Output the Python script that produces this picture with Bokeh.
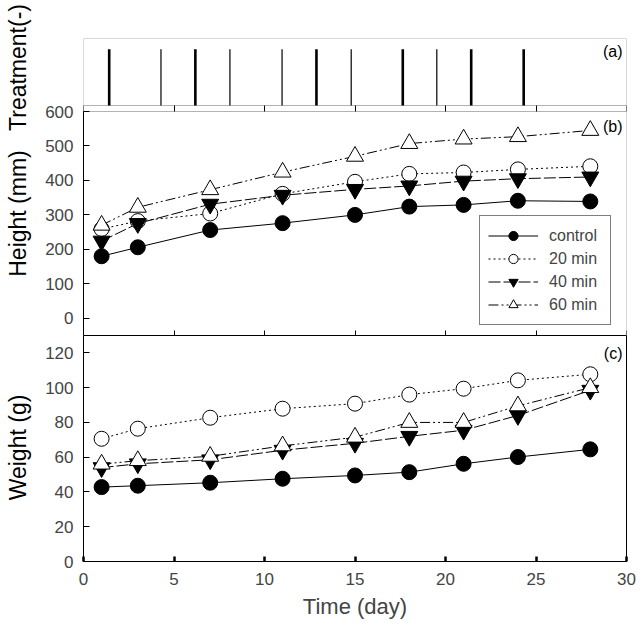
from math import pi
from bokeh.plotting import figure
from bokeh.models import (Range1d, LinearAxis, FixedTicker, BoxAnnotation, Label,
                          Legend, LegendItem)
from bokeh.layouts import column, row
from bokeh.embed import file_html
from bokeh.resources import INLINE

# ---------------- data ----------------
days = [1, 3, 7, 11, 15, 18, 21, 24, 28]
series_names = ["control", "20 min", "40 min", "60 min"]

height_control = [180, 206, 256, 276, 300, 324, 329, 341, 339]
height_20 = [259, 282, 304, 361, 396, 419, 423, 432, 441]
height_40 = [224, 275, 331, 357, 374, 384, 398, 405, 410]
height_60 = [270, 322, 373, 424, 470, 507, 520, 527, 545]

weight_control = [42.8, 43.6, 45.3, 47.6, 49.5, 51.4, 56.2, 60.1, 64.5]
weight_20 = [70.6, 76.4, 82.7, 87.9, 90.8, 96.0, 99.4, 104.2, 107.7]
weight_40 = [54.0, 56.2, 58.5, 64.0, 68.0, 72.0, 75.5, 84.0, 98.5]
weight_60 = [56.0, 58.0, 60.5, 66.5, 71.5, 80.0, 80.0, 89.5, 100.0]

treat_major = [1.42, 6.18, 12.87, 17.64, 21.42, 24.32]
treat_minor = [4.28, 8.09, 10.97, 14.79, 19.52]
treat_level = 0.84

x_ticks = [0, 5, 10, 15, 20, 25, 30]
height_ticks = [0, 100, 200, 300, 400, 500, 600]
weight_ticks = [0, 20, 40, 60, 80, 100, 120]

# ---------------- layout constants (pixels) ----------------
TOTAL_H = 637
TW = 35                      # strip holding the rotated axis titles
W = 640 - TW
LEFT, RIGHT = 83 - TW, 14
AB_H, AB_TOP = 335, 38
A_BOTTOM_PX, B_TOP_PX = 105, 111
C_H, C_BOTTOM = TOTAL_H - AB_H, 76
FONT = "Liberation Sans"
TICK_FS = "17px"
TITLE_FS = "23px"

frame_h_ab = AB_H - AB_TOP
b_lo, b_hi = -50, 600
ppu_b = (AB_H - B_TOP_PX) / (b_hi - b_lo)
b_end = b_lo + frame_h_ab / ppu_b
ppu_a = A_BOTTOM_PX - AB_TOP
a_start = 1 - frame_h_ab / ppu_a

xr = Range1d(0, 30)

styles = {
    "control": dict(marker="circle", fill="black", dash="solid", size=15),
    "20 min": dict(marker="circle", fill="white", dash="2 3", size=15),
    "40 min": dict(marker="inverted_triangle", fill="black", dash="12 3", size=17),
    "60 min": dict(marker="triangle", fill="white", dash="10 3 2 3 2 3", size=17),
}


def add_label(p, text, x, y, size, angle=0, align="center"):
    p.add_layout(Label(x=x, y=y, x_units="screen", y_units="screen", text=text,
                       text_font=FONT, text_font_size=size, text_align=align,
                       text_baseline="middle", angle=angle, text_color="black"))


# ---------------- axis-title strip ----------------
tp = figure(width=TW, height=TOTAL_H, x_range=Range1d(0, 1), y_range=Range1d(0, 1),
            min_border_left=0, min_border_right=0, min_border_top=0, min_border_bottom=0,
            output_backend="svg", toolbar_location=None,
            x_axis_location=None, y_axis_location=None)
tp.outline_line_color = None
tp.grid.visible = False
add_label(tp, "Treatment(-)", 17, TOTAL_H - 67, TITLE_FS, angle=pi / 2)
add_label(tp, "Height (mm)", 17, TOTAL_H - 213, TITLE_FS, angle=pi / 2)
add_label(tp, "Weight (g)", 17, TOTAL_H - 447, TITLE_FS, angle=pi / 2)

# ---------------- panels (a) + (b) ----------------
ab = figure(width=W, height=AB_H, x_range=xr, y_range=Range1d(b_lo, b_end),
            min_border_left=LEFT, min_border_right=RIGHT, min_border_top=AB_TOP,
            min_border_bottom=0, output_backend="svg", toolbar_location=None,
            x_axis_location=None, y_axis_location=None)
ab.outline_line_color = None
ab.grid.visible = False
ab.extra_y_ranges = {"a": Range1d(a_start, 1)}

ab.add_layout(BoxAnnotation(left=0, right=30, bottom=0, top=1, y_range_name="a",
                            fill_color=None, line_color="black", line_width=1))
ab.add_layout(BoxAnnotation(left=0, right=30, bottom=b_lo, top=b_hi,
                            fill_color=None, line_color="black", line_width=1))

ab.segment(x0=treat_major, y0=0, x1=treat_major, y1=treat_level, y_range_name="a",
           line_color="black", line_width=2.6)
ab.segment(x0=treat_minor, y0=0, x1=treat_minor, y1=treat_level, y_range_name="a",
           line_color="black", line_width=1.2)

gap_axis = LinearAxis(y_range_name="a", fixed_location=0, ticker=FixedTicker(ticks=x_ticks),
                      major_tick_out=6, major_tick_in=0, minor_tick_line_color=None,
                      axis_line_color=None, major_label_text_color=None)
ab.add_layout(gap_axis, "below")
b_bottom_axis = LinearAxis(fixed_location=b_lo, ticker=FixedTicker(ticks=x_ticks),
                           major_tick_out=0, major_tick_in=5, minor_tick_line_color=None,
                           axis_line_color=None, major_label_text_color=None)
ab.add_layout(b_bottom_axis, "below")

yb = LinearAxis(bounds=(b_lo, b_hi), ticker=FixedTicker(ticks=height_ticks),
                major_tick_in=6, major_tick_out=0, minor_tick_line_color=None,
                major_label_text_font=FONT, major_label_text_font_size=TICK_FS,
                major_label_standoff=10, axis_line_color="black")
ab.add_layout(yb, "left")

height_data = dict(zip(series_names, [height_control, height_20, height_40, height_60]))
lines_b, marks_b = {}, {}
for name in series_names:
    st = styles[name]
    lines_b[name] = ab.line(days, height_data[name], line_color="black", line_width=1,
                            line_dash=st["dash"])
for name in series_names:
    st = styles[name]
    marks_b[name] = ab.scatter(days, height_data[name], marker=st["marker"], size=st["size"],
                               fill_color=st["fill"], line_color="black", line_width=1)

legend = Legend(items=[LegendItem(label=n, renderers=[lines_b[n], marks_b[n]]) for n in series_names],
                location=(396, 10), margin=0, padding=8, spacing=0,
                glyph_width=50, glyph_height=23, label_height=23, label_width=53,
                label_standoff=11,
                label_text_font=FONT, label_text_font_size="16px",
                border_line_color="black", border_line_width=1,
                background_fill_color="white", background_fill_alpha=1)
ab.add_layout(legend)

frame_w = W - LEFT - RIGHT
add_label(ab, "(a)", frame_w - 4, AB_H - 51, "16px", align="right")
add_label(ab, "(b)", frame_w - 4, AB_H - 126, "16px", align="right")

# ---------------- panel (c) ----------------
c = figure(width=W, height=C_H, x_range=xr, y_range=Range1d(0, 130),
           min_border_left=LEFT, min_border_right=RIGHT, min_border_top=0,
           min_border_bottom=C_BOTTOM, output_backend="svg", toolbar_location=None,
           x_axis_location="below", y_axis_location="left")
c.grid.visible = False
c.outline_line_color = "black"
c.outline_line_width = 1
c.outline_line_alpha = 1

c.xaxis.ticker = FixedTicker(ticks=x_ticks)
c.xaxis.major_tick_in = 5
c.xaxis.major_tick_out = 0
c.xaxis.major_tick_line_width = 2.5
c.xaxis.minor_tick_line_color = None
c.xaxis.major_label_text_font = FONT
c.xaxis.major_label_text_font_size = TICK_FS
c.xaxis.major_label_standoff = 11
c.xaxis.axis_label = "Time (day)"
c.xaxis.axis_label_text_font = FONT
c.xaxis.axis_label_text_font_size = "22px"
c.xaxis.axis_label_text_font_style = "normal"
c.xaxis.axis_label_standoff = 6

c.yaxis.ticker = FixedTicker(ticks=weight_ticks)
c.yaxis.major_tick_in = 6
c.yaxis.major_tick_out = 0
c.yaxis.minor_tick_line_color = None
c.yaxis.major_label_text_font = FONT
c.yaxis.major_label_text_font_size = TICK_FS
c.yaxis.major_label_standoff = 10

weight_data = dict(zip(series_names, [weight_control, weight_20, weight_40, weight_60]))
for name in series_names:
    st = styles[name]
    c.line(days, weight_data[name], line_color="black", line_width=1, line_dash=st["dash"])
for name in series_names:
    st = styles[name]
    c.scatter(days, weight_data[name], marker=st["marker"], size=st["size"],
              fill_color=st["fill"], line_color="black", line_width=1)

frame_h_c = C_H - C_BOTTOM
add_label(c, "(c)", frame_w - 4, frame_h_c - 18, "16px", align="right")

layout = row(tp, column(ab, c, spacing=0), spacing=0)
open("out.html", "w").write(file_html(layout, INLINE))
